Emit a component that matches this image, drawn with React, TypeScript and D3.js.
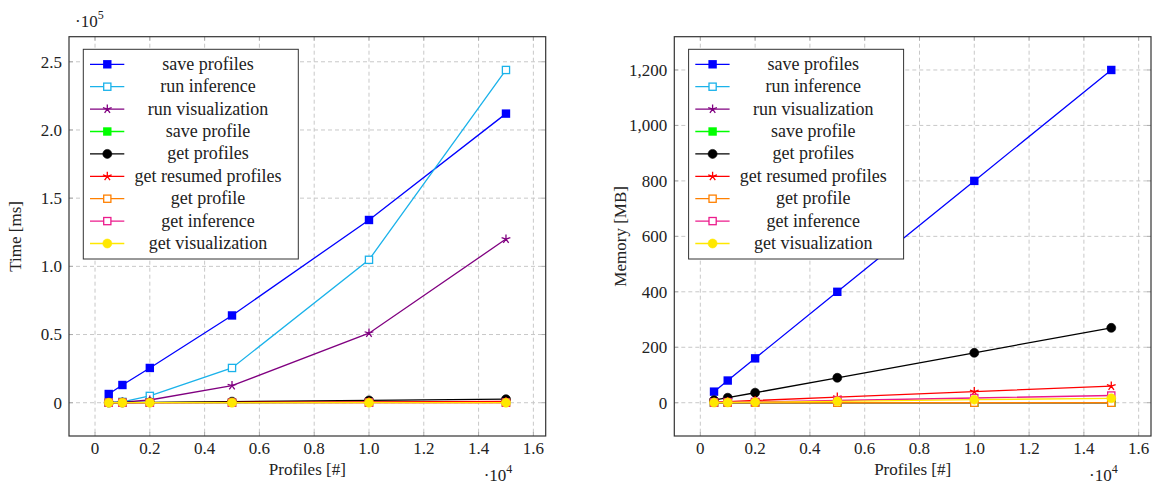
import React from 'react';
import * as d3 from 'd3';

// number of profiles
const profiles = [500, 1000, 2000, 5000, 10000, 15000];

// time [ms]
const timeSaveProfiles = [6400, 13000, 25500, 64000, 134000, 212000];
const timeRunInference = [200, 600, 5000, 25500, 104800, 244000];
const timeRunVisualization = [100, 400, 2000, 12500, 51000, 120000];
const timeSaveProfile = [20, 30, 60, 150, 300, 450];
const timeGetProfiles = [80, 160, 330, 800, 1700, 2600];
const timeGetResumedProfiles = [30, 60, 120, 300, 600, 900];
const timeGetProfile = [5, 5, 5, 5, 5, 5];
const timeGetInference = [10, 10, 10, 10, 10, 10];
const timeGetVisualization = [5, 5, 5, 5, 5, 5];

// memory [MB]
const memSaveProfiles = [40, 80, 160, 400, 800, 1200];
const memRunInference = [0, 0, 0, 0, 0, 0];
const memRunVisualization = [0, 0, 0, 0, 0, 0];
const memSaveProfile = [0.5, 0.5, 0.5, 0.5, 0.5, 0.5];
const memGetProfiles = [9, 18, 36, 90, 180, 270];
const memGetResumedProfiles = [2, 4, 8, 20, 40, 60];
const memGetProfile = [0, 0, 0, 0, 0, 0];
const memGetInference = [1, 2, 3, 8, 17, 26];
const memGetVisualization = [0.5, 1, 2, 5, 11, 16];

const seriesNames = [
  'save profiles', 'run inference', 'run visualization', 'save profile', 'get profiles',
  'get resumed profiles', 'get profile', 'get inference', 'get visualization',
];
const seriesColors = ['#0000ff', '#1ab2ea', '#800080', '#00ff00', '#000000', '#ff0000', '#ff8000', '#ec1b8c', '#ffe800'];
const seriesMarks = ['square*', 'square', 'star', 'square*', 'circle*', 'star', 'square', 'square', 'circle*'];

const xTicks = d3.range(0, 16001, 2000);
const timeTicks = d3.range(0, 250001, 50000);
const memTicks = d3.range(0, 1201, 200);

const FONT = "'Liberation Serif', 'Times New Roman', serif";

const Mark = ({ type, color, x, y }) => {
  if (type === 'circle*') return <circle cx={x} cy={y} r={4.5} fill={color} stroke={color} strokeWidth={0.6} />;
  if (type === 'square*') return <rect x={x - 4.2} y={y - 4.2} width={8.4} height={8.4} fill={color} />;
  if (type === 'square') return <rect x={x - 3.6} y={y - 3.6} width={7.2} height={7.2} fill="white" stroke={color} strokeWidth={1.3} />;
  const r = 4.6;
  const d = d3.range(5).map((k) => {
    const a = -Math.PI / 2 + (k * 2 * Math.PI) / 5;
    return `M${x},${y}L${x + r * Math.cos(a)},${y + r * Math.sin(a)}`;
  }).join('');
  return <path d={d} stroke={color} strokeWidth={1.3} fill="none" />;
};

const Panel = ({ left, right, data, yDomain, yTicks, yFmt, yLabel, yExp }) => {
  const top = 36.7;
  const bottom = 436;
  const x = d3.scaleLinear().domain([-950, 16450]).range([left, right]);
  const y = d3.scaleLinear().domain(yDomain).range([bottom, top]);
  const line = d3.line().x((d) => x(d[0])).y((d) => y(d[1]));
  const series = seriesNames.map((name, i) => ({
    name, color: seriesColors[i], mark: seriesMarks[i],
    pts: profiles.map((p, j) => [p, data[i][j]]),
  }));
  const lx = left + 14.3;
  const ly = 49.3;
  return (
    <g fontFamily={FONT} fontSize={17} fill="#222">
      {xTicks.map((t) => (
        <line key={'gx' + t} x1={x(t)} x2={x(t)} y1={top} y2={bottom} stroke="#c8c8c8" strokeDasharray="4,3" />
      ))}
      {yTicks.map((t) => (
        <line key={'gy' + t} x1={left} x2={right} y1={y(t)} y2={y(t)} stroke="#c8c8c8" strokeDasharray="4,3" />
      ))}
      {xTicks.map((t) => (
        <g key={'tx' + t}>
          <line x1={x(t)} x2={x(t)} y1={bottom} y2={bottom - 4} stroke="#aaa" />
          <line x1={x(t)} x2={x(t)} y1={top} y2={top + 4} stroke="#aaa" />
          <text x={x(t)} y={454} textAnchor="middle">{t === 0 ? '0' : (t / 1e4).toFixed(1)}</text>
        </g>
      ))}
      {yTicks.map((t) => (
        <g key={'ty' + t}>
          <line x1={left} x2={left + 4} y1={y(t)} y2={y(t)} stroke="#aaa" />
          <line x1={right} x2={right - 4} y1={y(t)} y2={y(t)} stroke="#aaa" />
          <text x={left - 7} y={y(t)} dy="0.34em" textAnchor="end">{yFmt(t)}</text>
        </g>
      ))}
      {series.map((s) => (
        <g key={s.name}>
          <path d={line(s.pts)} fill="none" stroke={s.color} strokeWidth={1.3} />
          {s.pts.map((p, j) => (
            <Mark key={j} type={s.mark} color={s.color} x={x(p[0])} y={y(p[1])} />
          ))}
        </g>
      ))}
      <rect x={left} y={top} width={right - left} height={bottom - top} fill="none" stroke="#333" strokeWidth={1.2} />
      <rect x={lx} y={ly} width={215} height={209.7} fill="white" stroke="#333" strokeWidth={1} />
      {series.map((s, i) => {
        const cy = ly + 15 + i * 22.4;
        return (
          <g key={'lg' + s.name}>
            <line x1={lx + 6.7} x2={lx + 41} y1={cy} y2={cy} stroke={s.color} strokeWidth={1.3} />
            <Mark type={s.mark} color={s.color} x={lx + 24} y={cy} />
            <text x={lx + 124.7} y={cy} dy="0.3em" fontSize={18} textAnchor="middle">{s.name}</text>
          </g>
        );
      })}
      <text transform={`translate(${left - 48},${(top + bottom) / 2}) rotate(-90)`} textAnchor="middle">{yLabel}</text>
      <text x={(left + right) / 2} y={475} textAnchor="middle">Profiles [#]</text>
      <text x={right - 62} y={481}>·10<tspan fontSize={12} dy={-8}>4</tspan></text>
      {yExp && <text x={left + 6} y={26.7}>·10<tspan fontSize={12} dy={-8}>{yExp}</tspan></text>}
    </g>
  );
};

export default function App() {
  const timeData = [timeSaveProfiles, timeRunInference, timeRunVisualization, timeSaveProfile, timeGetProfiles,
    timeGetResumedProfiles, timeGetProfile, timeGetInference, timeGetVisualization];
  const memData = [memSaveProfiles, memRunInference, memRunVisualization, memSaveProfile, memGetProfiles,
    memGetResumedProfiles, memGetProfile, memGetInference, memGetVisualization];
  return (
    <svg width={1152} height={483} style={{ position: 'absolute', left: 0, top: 0, background: 'white' }}>
      <Panel left={69} right={545.7} data={timeData} yDomain={[-24400, 268400]} yTicks={timeTicks}
        yFmt={(t) => (t === 0 ? '0' : (t / 1e5).toFixed(1))} yLabel="Time [ms]" yExp="5" />
      <Panel left={674.3} right={1151} data={memData} yDomain={[-120, 1320]} yTicks={memTicks}
        yFmt={d3.format(',')} yLabel="Memory [MB]" yExp={null} />
    </svg>
  );
}
